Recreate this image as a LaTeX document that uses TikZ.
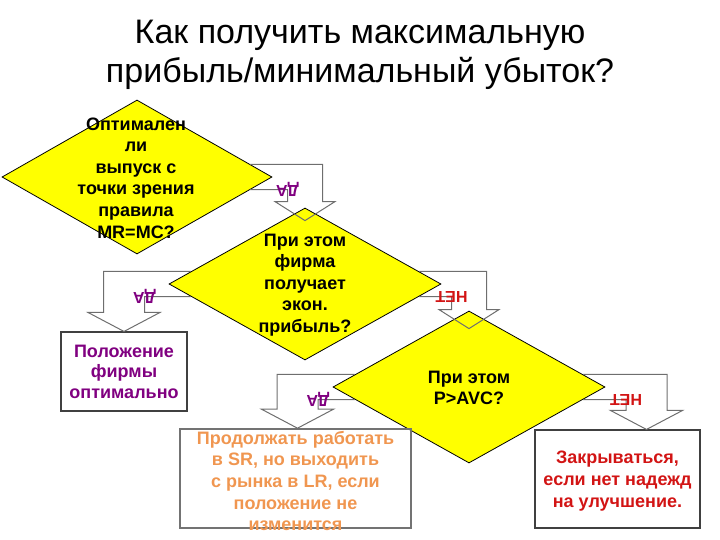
\documentclass[tikz,border=0pt]{standalone}
\usepackage{fontspec}
\setmainfont{Liberation Sans}
\usetikzlibrary{calc,shapes.geometric}

\definecolor{qyellow}{RGB}{255,255,0}
\definecolor{yespurple}{RGB}{128,0,128}
\definecolor{nored}{RGB}{210,20,20}
\definecolor{waitorange}{RGB}{240,150,80}
\definecolor{bendgray}{RGB}{110,110,110}

\tikzset{
  question/.style={diamond, draw=black, line width=0.8pt, fill=qyellow, inner sep=0pt,
    minimum width=272pt, minimum height=152pt},
  qtext/.style={align=center, inner sep=0pt, font=\fontsize{18}{21.6}\selectfont\bfseries},
  outcome/.style={rectangle, draw=black!75, line width=1.1pt, inner sep=0pt},
  bendline/.style={draw=bendgray, line width=1pt, line join=miter},
  yeslbl/.style={rotate=180, inner sep=0pt, text=yespurple, font=\fontsize{16}{16}\selectfont\bfseries},
  nolbl/.style={rotate=180, inner sep=0pt, text=nored, font=\fontsize{16}{16}\selectfont\bfseries},
}

% bent block arrow: source node, side, tip, shaft half width, head half width, label style, label
\newcommand{\bentarrow}[7]{%
  \draw[bendline] let \p1=($(#1.#2)!0.164!(#1.north)$), \p2=($(#1.#2)!0.164!(#1.south)$), \p3=(#3) in
    (\p1) -- ({\x3+(#4)*1pt},\y1) -- ({\x3+(#4)*1pt},{\y3+19pt})
    -- ({\x3+(#5)*1pt},{\y3+19pt}) -- (\p3) -- ({\x3-(#5)*1pt},{\y3+19pt})
    -- ({\x3-(#4)*1pt},{\y3+19pt}) -- ({\x3-(#4)*1pt},\y2) node[#6] (#1-#2-lbl) {#7} -- (\p2);
}

\begin{document}
\begin{tikzpicture}[x=1pt, y=-1pt]
\useasboundingbox (0,0) rectangle (720,540);

\node[align=center, inner sep=0pt, font=\fontsize{34}{39}\selectfont] (title) at (360,55)
  {Как получить максимальную\\прибыль/минимальный убыток?};

\node[question, minimum width=270pt, minimum height=154pt] (d1) at (137,177) {};
\node[question] (d2) at (305,284) {};
\node[question] (d3) at (469,387) {};

\node[outcome, minimum width=126pt, minimum height=79pt] (b1) at (124,371.5) {};
\node[outcome, draw=black!55, line width=1.6pt, minimum width=231pt, minimum height=99pt] (b2) at (295.5,478.5) {};
\node[outcome, minimum width=165pt, minimum height=98pt] (b3) at (617.5,479) {};

\node[qtext] (d1-txt) at (136,178) {Оптимален\\ли\\выпуск с\\точки зрения\\правила\\MR=MC?};
\node[qtext] (d2-txt) at (305,285) {При этом\\фирма\\получает\\экон.\\прибыль?};
\node[qtext] (d3-txt) at (469,388) {При этом\\P>AVC?};

\node[qtext, text=yespurple, font=\fontsize{18}{20.5}\selectfont\bfseries] (b1-txt) at (b1) {Положение\\фирмы\\оптимально};
\node[qtext, text=waitorange] (b2-txt) at (295.5,481) {Продолжать работать\\в SR, но выходить\\с рынка в LR, если\\положение не\\изменится};
\node[qtext, text=nored] (b3-txt) at (617.5,481) {Закрываться,\\если нет надежд\\на улучшение.};

\bentarrow{d1}{east}{$(d2.north)+(0,13)$}{17.5}{30}{yeslbl}{ДА}
\bentarrow{d2}{west}{b1.north}{-20.5}{-36}{yeslbl}{ДА}
\bentarrow{d2}{east}{$(d3.north)+(0,18)$}{17.5}{30}{nolbl}{НЕТ}
\bentarrow{d3}{west}{$(b2.north)+(2,0)$}{-20.5}{-36}{yeslbl}{ДА}
\bentarrow{d3}{east}{$(b3.north)+(29,0)$}{20.5}{36}{nolbl}{НЕТ}
\end{tikzpicture}
\end{document}
